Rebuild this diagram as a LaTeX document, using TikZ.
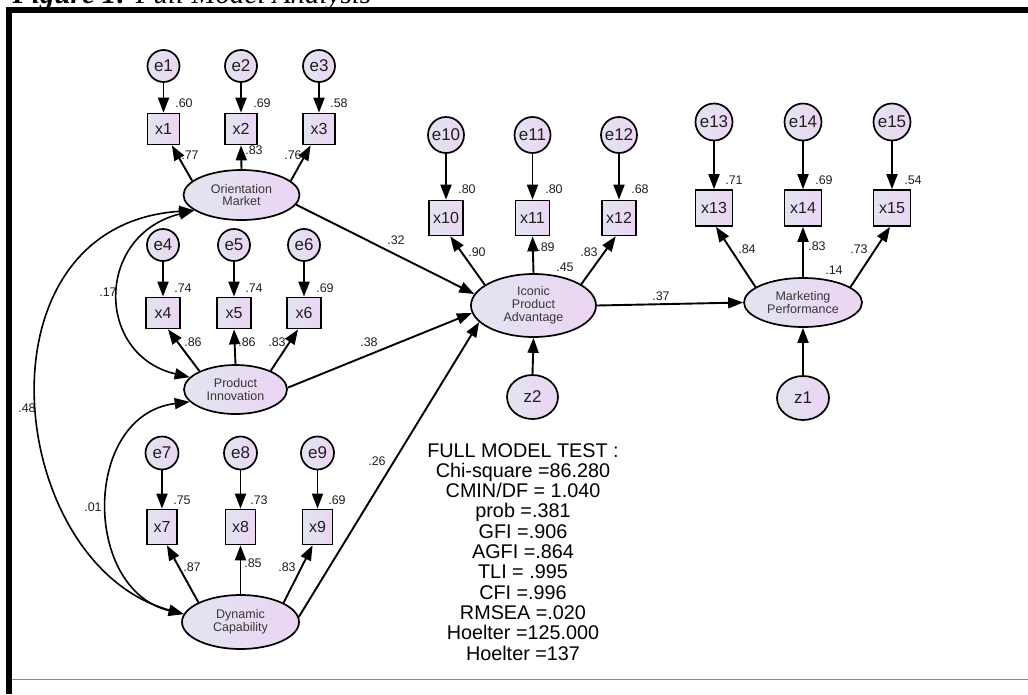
\documentclass[tikz,border=0pt]{standalone}
\usepackage{fontspec}
\setmainfont{Liberation Sans}
\newfontfamily\captionserif{Liberation Serif}
\usetikzlibrary{arrows.meta,shapes.geometric}
\definecolor{fillL}{RGB}{226,229,240}
\definecolor{fillR}{RGB}{236,212,243}
\definecolor{txt}{RGB}{30,30,30}
\definecolor{lattxt}{RGB}{55,55,55}
\definecolor{rulegray}{RGB}{136,136,136}
\tikzset{
  nodebase/.style={draw=black, line width=1.7pt, left color=fillL, right color=fillR, inner sep=0pt, text=txt},
  err/.style={nodebase, circle, minimum size=#1, font=\fontsize{17}{17}\selectfont},
  obs/.style 2 args={nodebase, rectangle, minimum width=#1, minimum height=#2, font=\fontsize{16}{16}\selectfont},
  lat/.style 2 args={nodebase, ellipse, minimum width=#1, minimum height=#2, font=\fontsize{12.5}{12.8}\selectfont, text=lattxt, align=center},
  dist/.style 2 args={nodebase, ellipse, minimum width=#1, minimum height=#2, font=\fontsize{17}{17}\selectfont},
  arr/.style={line width=1.9pt, -{Triangle[length=15pt,width=11pt]}},
  cov/.style={line width=1.6pt, {Triangle[length=15pt,width=11pt]}-{Triangle[length=15pt,width=11pt]}},
  lab/.style={font=\fontsize{12.5}{12.5}\selectfont, text=txt, inner sep=0pt},
  fittext/.style={font=\fontsize{19.8}{20.3}\selectfont, text=black, inner sep=0pt, align=center, anchor=north},
}
\begin{document}
\begin{tikzpicture}[x=1pt,y=-1pt]
\useasboundingbox (0,0) rectangle (1028,694);
% frame and caption
\node[anchor=base west, inner sep=0pt] (cap) at (12.5,3.5) {\captionserif\fontsize{29}{29}\selectfont\textbf{\textit{Figure 1:}} \textit{Full Model Analysis}};
\fill[black] (6,7) rectangle (1028,13);
\fill[black] (6,7) rectangle (12,694);
\draw[rulegray, line width=1.5pt] (12,679.5) -- (1028,679.5);

% ---- Orientation Market block
\node[err=32pt] (e1) at (163.5,66) {e1};
\node[err=32pt] (e2) at (241,66) {e2};
\node[err=32pt] (e3) at (319,66) {e3};
\node[obs={32pt}{31pt}] (x1) at (163.5,129) {x1};
\node[obs={32pt}{31pt}] (x2) at (241,129) {x2};
\node[obs={32pt}{31pt}] (x3) at (319,129) {x3};
\node[lat={116pt}{50pt}] (OM) at (241.5,195) {Orientation\\Market};

% ---- Product Innovation block
\node[err=32pt] (e4) at (163,245) {e4};
\node[err=32pt] (e5) at (234,245) {e5};
\node[err=32pt] (e6) at (304,245) {e6};
\node[obs={34pt}{31pt}] (x4) at (163,313) {x4};
\node[obs={34pt}{31pt}] (x5) at (234,313) {x5};
\node[obs={34pt}{31pt}] (x6) at (304,313) {x6};
\node[lat={103pt}{49pt}] (PI) at (235.5,389.5) {Product\\Innovation};

% ---- Dynamic Capability block
\node[err=33pt] (e7) at (162,453) {e7};
\node[err=33pt] (e8) at (240.5,453) {e8};
\node[err=33pt] (e9) at (317.5,453) {e9};
\node[obs={30pt}{35pt}] (x7) at (162,527) {x7};
\node[obs={30pt}{35pt}] (x8) at (240.5,527) {x8};
\node[obs={30pt}{35pt}] (x9) at (317.5,527) {x9};
\node[lat={117pt}{54pt}] (DC) at (240.5,622) {Dynamic\\Capability};

% ---- Iconic Product Advantage block
\node[err=36pt] (e10) at (446,135) {e10};
\node[err=36pt] (e11) at (532.5,135) {e11};
\node[err=36pt] (e12) at (619,135) {e12};
\node[obs={34pt}{35pt}] (x10) at (446,218) {x10};
\node[obs={34pt}{35pt}] (x11) at (532.5,218) {x11};
\node[obs={34pt}{35pt}] (x12) at (619,218) {x12};
\node[lat={125pt}{63pt}] (IPA) at (533.5,305.5) {Iconic\\Product\\Advantage};
\node[dist={51pt}{44pt}] (z2) at (532.5,397) {z2};

% ---- Marketing Performance block
\node[err=37pt] (e13) at (714,122) {e13};
\node[err=37pt] (e14) at (803,122) {e14};
\node[err=37pt] (e15) at (892,122) {e15};
\node[obs={37pt}{36pt}] (x13) at (714,208) {x13};
\node[obs={37pt}{36pt}] (x14) at (803,208) {x14};
\node[obs={37pt}{36pt}] (x15) at (892,208) {x15};
\node[lat={118pt}{49pt}] (MP) at (803,302.5) {Marketing\\Performance};
\node[dist={52pt}{44pt}] (z1) at (803,398) {z1};

% ---- error arrows
\foreach \i in {1,...,15} {\draw[arr] (e\i.south) -- (x\i.north);}

% ---- loadings
\draw[arr] (OM.164) -- (x1.-63);
\draw[arr] (OM.north) -- (x2.south);
\draw[arr] (OM.16) -- (x3.-117);
\draw[arr] (PI.153) -- (x4.-73);
\draw[arr] (PI.north) -- (x5.south);
\draw[arr] (PI.28) -- (x6.-110);
\draw[arr] (DC.155) -- (x7.-75);
\draw[arr] (DC.north) -- (x8.south);
\draw[arr] (DC.24) -- (x9.-105);
\draw[arr] (IPA.157) -- (x10.-77);
\draw[arr] (IPA.north) -- (x11.south);
\draw[arr] (IPA.24) -- (x12.-100);
\draw[arr] (MP.162) -- (x13.-84);
\draw[arr] (MP.north) -- (x14.south);
\draw[arr] (MP.18) -- (x15.-96);

% ---- structural paths
\draw[arr] (OM.-10) -- (IPA.169);
\draw[arr] (PI.2) -- (IPA.187);
\draw[arr] (DC.5) -- (IPA.197);
\draw[arr] (IPA.east) -- (MP.west);
\draw[arr] (z2.north) -- (IPA.south);
\draw[arr] (z1.north) -- (MP.south);

% ---- covariances
\draw[cov] (OM.198) .. controls (95,235) and (95,355) .. (PI.165);
\draw[cov] (OM.198) .. controls (-30,225) and (5,565) .. (DC.172);
\draw[cov] (PI.195) .. controls (82,415) and (82,590) .. (DC.172);

% ---- labels
\node[lab] (l1) at (184,103) {.60};
\node[lab] (l2) at (262,103) {.69};
\node[lab] (l3) at (339,103) {.58};
\node[lab] (l4) at (190,155) {.77};
\node[lab] (l5) at (254,150) {.83};
\node[lab] (l6) at (293,155) {.76};
\node[lab] (l7) at (183,288) {.74};
\node[lab] (l8) at (254,288) {.74};
\node[lab] (l9) at (325,288) {.69};
\node[lab] (l10) at (193,342) {.86};
\node[lab] (l11) at (247,342) {.86};
\node[lab] (l12) at (277,342) {.83};
\node[lab] (l13) at (182,500) {.75};
\node[lab] (l14) at (259,500) {.73};
\node[lab] (l15) at (337,500) {.69};
\node[lab] (l16) at (192,567) {.87};
\node[lab] (l17) at (253,563) {.85};
\node[lab] (l18) at (287,567) {.83};
\node[lab] (l19) at (467,189) {.80};
\node[lab] (l20) at (554,189) {.80};
\node[lab] (l21) at (640,189) {.68};
\node[lab] (l22) at (477,252) {.90};
\node[lab] (l23) at (546,247) {.89};
\node[lab] (l24) at (589,252) {.83};
\node[lab] (l25) at (565,267) {.45};
\node[lab] (l26) at (734,180) {.71};
\node[lab] (l27) at (824,180) {.69};
\node[lab] (l28) at (913,180) {.54};
\node[lab] (l29) at (747,249) {.84};
\node[lab] (l30) at (817,246) {.83};
\node[lab] (l31) at (859,249) {.73};
\node[lab] (l32) at (834,270) {.14};
\node[lab] (l33) at (396,240) {.32};
\node[lab] (l34) at (369,342) {.38};
\node[lab] (l35) at (377,461) {.26};
\node[lab] (l36) at (661,296) {.37};
\node[lab] (l37) at (108,292) {.17};
\node[lab] (l38) at (27,408) {.48};
\node[lab] (l39) at (93,507) {.01};

% ---- fit statistics
\node[fittext] (fit) at (523,443) {FULL MODEL TEST :\\Chi-square =86.280\\CMIN/DF = 1.040\\prob =.381\\GFI =.906\\AGFI =.864\\TLI = .995\\CFI =.996\\RMSEA =.020\\Hoelter =125.000\\Hoelter =137};
\end{tikzpicture}
\end{document}
